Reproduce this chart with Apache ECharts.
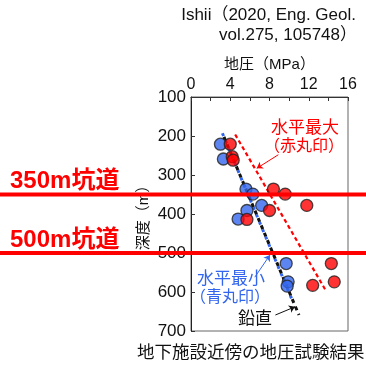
<!DOCTYPE html>
<html>
<head>
<meta charset="utf-8">
<script src="https://cdn.jsdelivr.net/npm/echarts@6/dist/echarts.min.js"></script>
<style>
html,body{margin:0;padding:0;background:#fff;}
#chart{width:366px;height:369px;}
</style>
</head>
<body>
<div id="chart"></div>
<script>
// In-situ stress measurements near the underground facility (stress in MPa vs depth in m)
const stressTicks = [0, 4, 8, 12, 16];
const depthTicks = [100, 200, 300, 400, 500, 600, 700];

// Minimum horizontal stress (blue circles)
const minHStress = [3.0, 3.3, 5.6, 6.3, 7.2, 5.7, 4.8, 9.7, 9.9, 9.8];
const minHDepth  = [221, 259, 336, 349, 378, 391, 413, 527, 574, 585];

// Maximum horizontal stress (red circles)
const maxHStress = [4.0, 4.2, 4.3, 8.4, 9.6, 11.8, 8.0, 5.7, 14.3, 14.6, 12.4];
const maxHDepth  = [221, 253, 262, 336, 349, 378, 391, 414, 527, 574, 583];

// Trend lines: [stress, depth] end points
const maxHTrend = [[4.5, 196], [13.8, 599]];
const minHTrend = [[3.2, 193], [10.3, 620]];
const vertTrend = [[3.2, 193], [11.0, 659]];

// Gallery depths
const galleryDepths = [350, 500];
const galleryNames = ['350m坑道', '500m坑道'];

// Leader arrows: [from, to] in [stress, depth]
const maxHArrow = [[8.9, 248], [6.7, 283]];
const minHArrow = [[6.5, 562], [8.05, 505]];
const vertArrow = [[8.6, 659], [10.6, 638]];

const FONT = '"Liberation Sans", "Noto Sans CJK JP", sans-serif';
const RED = '#ff0000';
const BLUE = '#3366ee';

const pair = (xs, ys) => xs.map((x, i) => [x, ys[i]]);

const chart = echarts.init(document.getElementById('chart'), null, {renderer: 'canvas'});

chart.setOption({
  animation: false,
  backgroundColor: '#fff',
  grid: {
    left: 191, top: 97, width: 157, height: 234,
    show: true, borderColor: '#666', borderWidth: 1, backgroundColor: 'transparent'
  },
  xAxis: {
    type: 'value', position: 'top',
    min: stressTicks[0], max: stressTicks[stressTicks.length - 1], interval: 2,
    name: '地圧（MPa）', nameLocation: 'middle', nameGap: 25,
    nameTextStyle: {fontFamily: FONT, fontSize: 15, color: '#111'},
    axisLine: {lineStyle: {color: '#333', width: 1}},
    axisTick: {inside: true, length: 4, lineStyle: {color: '#333'}},
    axisLabel: {
      fontFamily: FONT, fontSize: 16, color: '#111', margin: 4,
      formatter: v => stressTicks.includes(v) ? String(v) : ''
    },
    splitLine: {show: false}
  },
  yAxis: {
    type: 'value', inverse: true,
    min: depthTicks[0], max: depthTicks[depthTicks.length - 1], interval: 100,
    name: '深度（m）', nameLocation: 'middle', nameGap: 40, nameRotate: 90,
    nameTextStyle: {fontFamily: FONT, fontSize: 15, color: '#111'},
    axisLine: {lineStyle: {color: '#222', width: 1}},
    axisTick: {inside: true, length: 4, lineStyle: {color: '#333'}},
    axisLabel: {fontFamily: FONT, fontSize: 17, color: '#111', margin: 5},
    splitLine: {show: false}
  },
  series: [
    {
      type: 'line', data: maxHTrend, symbol: 'none', z: 2,
      lineStyle: {color: RED, width: 2.2, type: [4, 3], cap: 'butt'}
    },
    {
      type: 'line', data: minHTrend, symbol: 'none', z: 2,
      lineStyle: {color: BLUE, width: 3, type: [3, 5], dashOffset: 0, cap: 'butt'}
    },
    {
      type: 'line', data: vertTrend, symbol: 'none', z: 2,
      lineStyle: {color: '#111', width: 3, type: [4, 4], dashOffset: 4, cap: 'butt'}
    },
    {
      type: 'lines', coordinateSystem: 'cartesian2d', z: 3,
      symbol: ['none', 'arrow'], symbolSize: 6,
      data: [
        {coords: maxHArrow, lineStyle: {color: RED}},
        {coords: minHArrow, lineStyle: {color: BLUE}},
        {coords: vertArrow, lineStyle: {color: '#111'}}
      ],
      lineStyle: {width: 1, opacity: 1}
    },
    {
      type: 'scatter', data: pair(minHStress, minHDepth), symbol: 'circle', symbolSize: 12, z: 4,
      itemStyle: {color: BLUE, borderColor: '#222', borderWidth: 1.3}
    },
    {
      type: 'scatter', data: pair(maxHStress, maxHDepth), symbol: 'circle', symbolSize: 12, z: 5,
      itemStyle: {color: RED, borderColor: '#222', borderWidth: 1.3}
    }
  ]
});

// Gallery lines run across the whole figure; their depth goes through the y scale
const graphics = [];
galleryDepths.forEach((d, i) => {
  const y = chart.convertToPixel({yAxisIndex: 0}, d);
  graphics.push({
    type: 'line', z: 100,
    shape: {x1: 0, y1: y, x2: 366, y2: y},
    style: {stroke: RED, lineWidth: 4}
  });
  graphics.push({
    type: 'text', z: 100, left: 10, top: y - 25,
    style: {text: galleryNames[i], fill: RED, font: 'bold 24px ' + FONT}
  });
});

const label = (text, x, y, color, size, align) => ({
  type: 'text', z: 90, x: x, y: y,
  style: {text: text, fill: color, font: size + 'px ' + FONT, textAlign: align || 'left', textVerticalAlign: 'middle'}
});

graphics.push(
  label('水平最大', 271, 128, RED, 17),
  label('（赤丸印）', 264, 147, RED, 16),
  label('水平最小', 197, 279, BLUE, 17),
  label('（青丸印）', 190, 298, BLUE, 16),
  label('鉛直', 238, 319, '#111', 17),
  label('Ishii（2020, Eng. Geol.', 356, 15, '#111', 17, 'right'),
  label('vol.275, 105748）', 357, 35, '#111', 17, 'right'),
  label('地下施設近傍の地圧試験結果', 137, 353, '#111', 17.5)
);

chart.setOption({graphic: graphics});
</script>
</body>
</html>
